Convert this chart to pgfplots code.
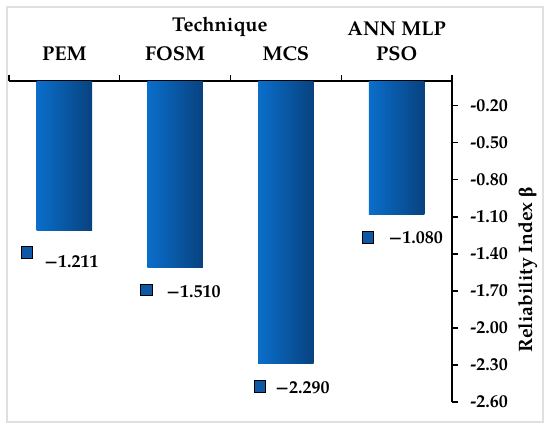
\documentclass[border=0pt]{standalone}
\usepackage{pgfplots}
\pgfplotsset{compat=1.18}
\usepackage{fontspec}
\setmainfont{TeX Gyre Pagella}
\newfontfamily\greekfont{Liberation Serif}
\definecolor{barL}{RGB}{10,110,202}
\definecolor{barR}{RGB}{8,66,128}
\definecolor{mk}{RGB}{14,88,166}
\definecolor{framec}{RGB}{224,224,224}
\pgfplotsset{gbar/.style={ybar, bar width=0.5, bar shift=0pt, draw=none, left color=barL, right color=barR}}
\begin{document}
\begin{tikzpicture}
\path[use as bounding box] (-4.5pt,-14pt) rectangle (270.5pt,201pt);
\draw[framec, line width=0.6pt] (-1pt,-10pt) rectangle (267pt,197.5pt);
\begin{axis}[
  scale only axis, width=221.5pt, height=160.5pt,
  xmin=-0.5, xmax=3.5, ymin=-2.6, ymax=0,
  axis x line=top, axis y line=right,
  x axis line style={-}, y axis line style={-},
  axis line style={line width=0.7pt},
  tick align=outside,
  tick style={line width=0.7pt, black},
  major tick length=3pt, minor tick length=3pt,
  xtick={0,1,2,3},
  xticklabels={PEM,FOSM,MCS,{ANN MLP\\PSO}},
  major x tick style={draw=none},
  minor xtick={-0.5,0.5,1.5,2.5,3.5},
  xticklabel style={font=\fontsize{10}{12.5}\selectfont\bfseries, align=center, anchor=south, inner sep=0pt, yshift=7pt},
  ytick={-0.2,-0.5,-0.8,-1.1,-1.4,-1.7,-2.0,-2.3,-2.6},
  yticklabels={-0.20,-0.50,-0.80,-1.10,-1.40,-1.70,-2.00,-2.30,-2.60},
  yticklabel style={font=\fontsize{9}{11}\selectfont\bfseries, anchor=west, xshift=2.7pt},
  ylabel={Reliability Index {\greekfont β}},
  every axis y label/.style={at={(axis description cs:1.1716,0.411)}, rotate=90, anchor=center, font=\fontsize{9.7}{11}\selectfont\bfseries},
  clip=false,
]
\addplot[gbar] coordinates {(0,-1.211)};
\addplot[gbar] coordinates {(1,-1.510)};
\addplot[gbar] coordinates {(2,-2.290)};
\addplot[gbar] coordinates {(3,-1.080)};
\addplot[only marks, mark=square*, mark size=2.9pt, mark options={draw=none, fill=mk}]
  coordinates {(-0.340,-1.389) (0.7415,-1.691) (1.766,-2.474) (2.7415,-1.265)};
\addplot[draw=none, mark=none, nodes near coords, point meta=explicit symbolic,
  nodes near coords style={anchor=west, inner sep=0pt, font=\fontsize{9}{11}\selectfont\bfseries, text=black}]
  coordinates {(-0.184,-1.464) [−1.211] (0.9176,-1.703) [−1.510] (1.902,-2.482) [−2.290] (2.925,-1.265) [−1.080]};
\node[anchor=base, font=\fontsize{10}{12}\selectfont\bfseries, yshift=25pt] at (axis description cs:0.476,1) {Technique};
\end{axis}
\end{tikzpicture}
\end{document}
